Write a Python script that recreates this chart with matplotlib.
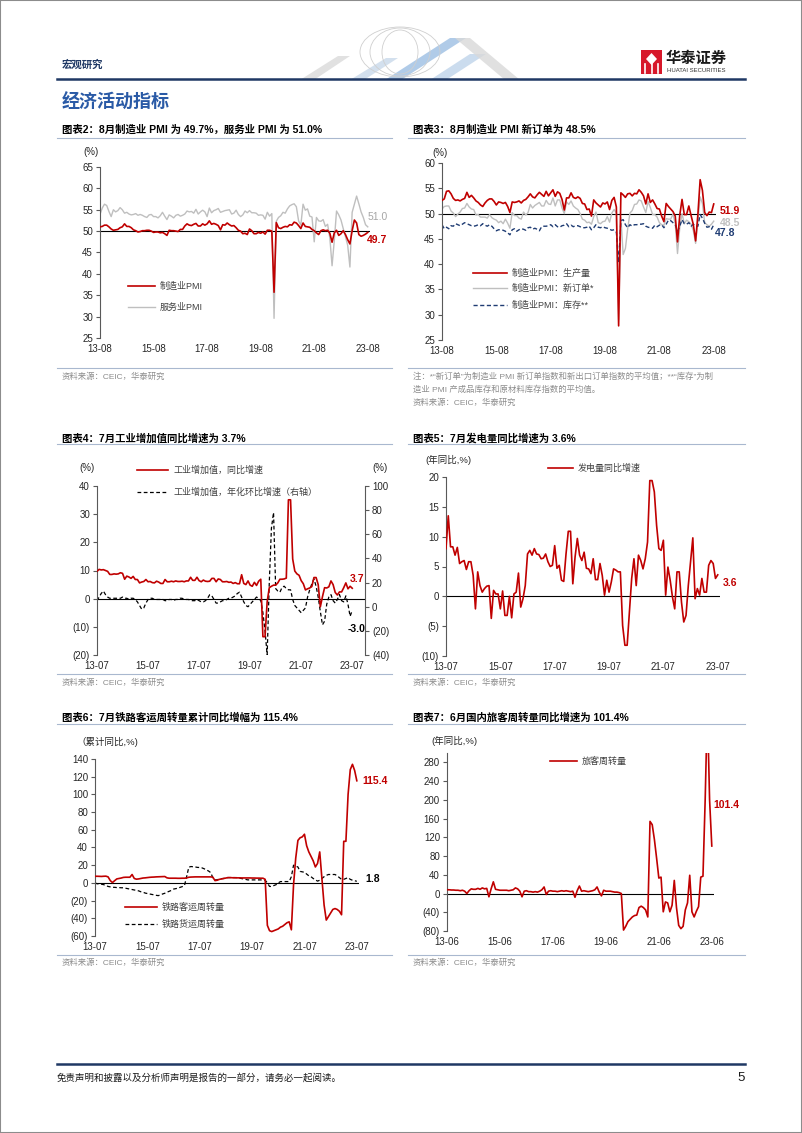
import matplotlib
matplotlib.use('Agg')
import matplotlib.pyplot as plt
from matplotlib.lines import Line2D
from matplotlib.patches import Rectangle, Polygon, Ellipse

plt.rcParams['font.family'] = ['Liberation Sans', 'Noto Sans CJK SC']
plt.rcParams['axes.unicode_minus'] = False

# ---------------- data (monthly) ----------------
# chart 2: 2013-08 .. 2023-08
pmi_mfg = [51.0, 51.1, 51.4, 51.4, 51.0,
           50.5, 50.2, 50.3, 50.4, 50.8, 51.0, 51.7, 51.1, 51.1, 50.8, 50.3, 50.1,
           49.8, 49.9, 50.1, 50.1, 50.2, 50.2, 50.0, 49.7, 49.8, 49.8, 49.6, 49.7,
           49.4, 49.0, 50.2, 50.1, 50.1, 50.0, 49.9, 50.4, 50.4, 51.2, 51.7, 51.4,
           51.3, 51.6, 51.8, 51.2, 51.2, 51.7, 51.4, 51.7, 52.4, 51.6, 51.8, 51.6,
           51.3, 50.3, 51.5, 51.4, 51.9, 51.5, 51.2, 51.3, 50.8, 50.2, 50.0, 49.4,
           49.5, 49.2, 50.5, 50.1, 49.4, 49.4, 49.7, 49.5, 49.8, 49.3, 50.2, 50.2,
           50.0, 35.7, 52.0, 50.8, 50.6, 50.9, 51.1, 51.0, 51.5, 51.4, 52.1, 51.9,
           51.3, 50.6, 51.9, 51.1, 51.0, 50.9, 50.4, 50.1, 49.6, 49.2, 50.1, 50.3,
           50.1, 50.2, 49.5, 47.4, 49.6, 50.2, 49.0, 49.4, 50.1, 49.2, 48.0, 47.0,
           50.1, 52.6, 51.9, 49.2, 48.8, 49.0, 49.3, 49.7]
pmi_svc = [53.9, 55.4, 56.3, 56.0, 54.6,
           53.4, 55.0, 54.5, 54.8, 55.5, 55.0, 54.2, 54.4, 54.0, 53.8, 53.9, 54.1,
           53.7, 53.9, 53.7, 53.4, 53.2, 53.8, 53.9, 53.4, 53.4, 53.1, 53.6, 54.4,
           53.5, 52.7, 53.8, 53.5, 53.1, 53.7, 53.9, 53.5, 53.7, 54.0, 54.7, 54.5,
           54.6, 54.2, 55.1, 54.0, 54.5, 54.9, 54.5, 53.4, 55.4, 54.3, 54.8, 55.0,
           55.3, 54.4, 54.6, 54.8, 54.9, 55.0, 54.0, 54.2, 54.9, 53.9, 53.4, 53.8,
           54.7, 54.3, 54.8, 54.3, 54.3, 54.2, 53.7, 53.8, 53.7, 52.8, 54.4, 53.5,
           54.1, 29.6, 52.3, 53.2, 53.6, 54.4, 54.2, 55.2, 55.9, 56.2, 56.4, 55.7,
           52.4, 51.4, 56.3, 54.9, 55.2, 53.5, 53.3, 47.5, 53.2, 52.4, 52.3, 52.7,
           51.1, 51.6, 48.4, 41.9, 47.8, 54.7, 53.8, 52.6, 50.6, 48.7, 46.7, 41.6,
           54.4, 56.3, 58.2, 56.4, 54.5, 53.2, 51.5, 51.0]

# chart 3: 2013-08 .. 2023-08
pmi_prod = [52.6, 52.9, 54.4, 54.5, 53.9,
            53.0, 52.6, 52.7, 52.5, 52.8, 53.0, 54.2, 53.2, 53.6, 53.1, 52.5, 52.2,
            51.7, 51.4, 52.1, 52.6, 52.9, 52.9, 52.4, 51.7, 52.3, 52.2, 52.0, 52.2,
            51.4, 50.2, 52.3, 52.2, 52.3, 52.5, 52.1, 52.6, 52.8, 53.3, 53.9, 53.3,
            53.1, 53.7, 54.2, 53.8, 53.4, 54.4, 53.5, 54.1, 54.7, 53.4, 54.3, 54.0,
            52.8, 50.7, 53.1, 53.1, 54.1, 53.2, 53.0, 53.3, 53.0, 52.0, 51.9, 50.8,
            50.9, 49.5, 52.7, 52.1, 51.7, 51.3, 52.1, 51.9, 52.3, 50.8, 52.6, 53.2,
            51.3, 27.8, 54.1, 53.7, 53.2, 53.9, 54.0, 53.5, 54.0, 53.9, 54.7, 54.2,
            53.5, 51.9, 53.9, 52.2, 52.7, 51.9, 51.0, 50.9, 49.5, 48.4, 52.0, 51.4,
            50.9, 50.4, 49.5, 44.4, 49.7, 52.8, 49.8, 49.8, 51.5, 49.6, 47.8, 44.6,
            49.8, 56.7, 54.6, 50.2, 49.6, 50.3, 50.2, 51.9]
pmi_neword = [50.9, 51.4, 51.5, 51.5, 50.5,
              50.1, 49.4, 49.9, 50.3, 51.0, 51.1, 52.0, 51.3, 50.9, 50.8, 49.7, 49.8,
              49.3, 49.3, 49.3, 49.1, 49.8, 49.2, 48.9, 48.7, 48.2, 48.5, 48.0, 48.9,
              48.1, 47.1, 50.2, 49.6, 49.6, 49.1, 48.9, 50.3, 49.7, 50.2, 51.8, 51.1,
              51.6, 51.9, 52.2, 51.5, 51.5, 52.6, 51.9, 51.8, 53.1, 51.5, 52.7, 52.7,
              51.1, 50.0, 52.3, 51.8, 52.5, 51.5, 51.1, 50.8, 50.0, 48.9, 48.7, 48.2,
              48.3, 47.9, 49.4, 50.3, 48.2, 48.0, 48.4, 48.5, 49.4, 48.3, 50.1, 50.8,
              50.1, 29.0, 49.2, 41.9, 43.1, 47.0, 50.1, 50.6, 51.8, 51.9, 52.7, 52.5,
              51.3, 50.2, 52.4, 51.2, 49.8, 49.8, 49.3, 48.2, 47.8, 47.7, 49.0, 48.9,
              48.9, 49.9, 48.0, 42.1, 47.2, 50.0, 48.0, 48.7, 48.4, 47.9, 46.6, 44.1,
              48.5, 53.3, 52.0, 48.2, 47.8, 47.5, 47.9, 48.5]
pmi_inv = [47.8, 47.0, 47.3, 47.0, 47.6,
           47.5, 48.0, 47.8, 47.6, 47.9, 48.2, 48.0, 47.8, 47.6, 47.5, 47.6, 47.8,
           47.6, 48.0, 47.7, 47.5, 47.8, 47.5, 47.0, 46.6, 46.8, 46.8, 46.7, 46.5,
           46.2, 45.8, 46.8, 47.0, 46.5, 46.8, 47.0, 46.9, 46.7, 47.2, 47.3, 46.9,
           47.1, 46.9, 46.6, 47.4, 47.5, 47.5, 47.6, 47.8, 47.4, 47.8, 47.4, 47.3,
           47.6, 47.7, 48.0, 47.4, 47.7, 47.4, 47.6, 47.6, 47.4, 47.2, 47.2, 47.3,
           47.5, 46.8, 47.2, 47.8, 47.3, 47.2, 47.4, 47.2, 47.1, 46.9, 46.7, 46.8,
           46.3, 40.3, 48.6, 48.8, 47.8, 47.2, 47.8, 47.5, 47.8, 47.8, 47.9, 47.9,
           48.0, 47.5, 47.3, 47.2, 47.1, 47.7, 47.4, 47.7, 47.8, 47.2, 47.9, 48.7,
           48.6, 48.2, 47.8, 46.5, 47.5, 48.8, 48.0, 47.9, 48.2, 47.5, 47.9, 47.5,
           47.5, 49.8, 49.1, 48.1, 47.3, 47.4, 46.9, 47.8]

# chart 4: 2013-07 .. 2023-07
iva_yoy = [9.7, 10.4, 10.2, 10.3, 10.0, 9.7,
           8.6, 8.6, 8.8, 8.7, 8.8, 9.2, 9.0, 6.9, 8.0, 7.7, 7.2, 7.9,
           6.8, 6.8, 5.6, 5.9, 6.1, 6.8, 6.0, 6.1, 5.7, 5.6, 6.2, 5.9,
           5.4, 5.4, 6.8, 6.0, 6.0, 6.2, 6.0, 6.3, 6.1, 6.1, 6.2, 6.0,
           6.3, 6.3, 7.6, 6.5, 6.5, 7.6, 6.4, 6.0, 6.6, 6.2, 6.1, 6.2,
           7.2, 7.2, 6.0, 7.0, 6.8, 6.0, 6.0, 6.1, 5.8, 5.9, 5.4, 5.7,
           5.3, 5.3, 8.5, 5.4, 5.0, 6.3, 4.8, 4.4, 5.8, 4.7, 6.2, 6.9,
           -13.5, -13.5, -1.1, 3.9, 4.4, 4.8, 4.8, 5.6, 6.9, 6.9, 7.0, 7.3,
           35.1, 35.1, 14.1, 9.8, 8.8, 8.3, 6.4, 5.3, 3.1, 3.5, 3.8, 4.3,
           7.5, 7.5, 5.0, -2.9, 0.7, 3.9, 3.8, 4.2, 6.3, 5.0, 2.2, 1.3,
           2.4, 2.4, 3.9, 5.6, 3.5, 4.4, 3.7]
iva_saar = [5, 8, 11, 13, 10, 8,
            7, 7, 7, 7, 7, 7, 8, 7, 7, 6, 7, 7,
            6, 4, 1, -2, -1, 3, 6, 7, 7, 6, 6, 6,
            6, 6, 5, 5, 6, 6, 5, 6, 6, 7, 7, 6,
            6, 6, 5, 5, 5, 6, 5, 4, 4, 5, 7, 10,
            9, 6, 3, 3, 4, 5, 5, 6, 7, 7, 8, 9,
            11, 12, 8, 4, 1, 0, 2, 4, 6, 8, 7, 5,
            -5, -20, -40, 20, 65, 78, 15, 13, 12, 16, 17, 15,
            14, 14, 6, 1, -1, -3, -5, -3, -1, 8, 14, 19,
            23, 17, 8, -4, -15, -12, 2, 8, 10, 5, 3, 6,
            10, 5, 4, 9, 2, -8, -3]

# chart 5: 2013-07 .. 2023-07
power_yoy = [8.0, 13.5, 8.3, 8.3, 6.9, 8.2, 5.5, 5.8, 6.0, 4.5,
             5.8, 5.8, 3.5, -2.1, 4.1, 1.8, 0.7, 1.3, 1.7, 1.8,
             -3.7, 1.0, 0.4, 0.4, -2.1, 0.9, -3.2, -3.2, 0.0, -3.6,
             0.4, 0.7, 3.9, -1.8, -0.4, 1.8, 7.1, 7.7, 6.9, 8.0,
             7.1, 7.0, 6.3, 6.4, 7.1, 5.8, 5.0, 5.2, 8.5, 4.7,
             5.2, 2.7, 2.5, 7.1, 10.9, 10.9, 2.1, 6.6, 9.7, 6.9,
             6.0, 7.4, 4.7, 4.6, 3.8, 6.3, 2.8, 2.8, 5.5, 3.5,
             0.2, 2.7, 0.7, 2.4, 4.6, 4.4, 4.1, 4.1, -4.9, -8.2,
             -8.2, -2.6, 3.0, 6.3, 1.8, 6.9, 6.0, 4.6, 6.3, 9.1,
             19.4, 19.4, 17.5, 11.9, 8.0, 7.7, 9.4, 0.2, 4.9, 2.7,
             -0.1, -2.1, 4.1, 4.1, -1.0, -4.3, -3.2, 1.8, 5.8, 9.8,
             -0.4, 1.3, 0.2, 3.0, 0.7, 0.7, 5.2, 6.0, 5.5, 3.0,
             3.6]

# chart 6: 2013-07 .. 2023-07
rail_pass = [7.5, 7.5, 7.4, 7.3, 7.5, 7.6,
             6.8, 2.6, 0.4, 2.5, 4.5, 5.0, 5.5, 6.2, 6.4, 6.4, 6.4, 9.5,
             5.0, 4.2, 4.5, 5.0, 5.5, 5.7, 6.0, 6.3, 6.5, 6.6, 6.8, 6.9,
             7.0, 7.1, 7.2, 5.7, 5.3, 5.3, 5.3, 5.3, 5.2, 5.2, 5.3, 5.3,
             5.6, 6.4, 6.6, 6.7, 6.8, 6.8, 6.8, 6.8, 6.8, 6.8, 6.8, 6.8,
             6.5, 2.6, 3.0, 4.0, 4.5, 5.0, 5.5, 6.0, 6.0, 5.8, 5.8, 5.7,
             5.7, 5.6, 5.6, 5.6, 5.6, 5.6, 5.5, 5.5, 5.4, 5.4, 5.3, 5.3,
             4.0, -48, -54, -55, -54, -53, -52, -50, -49, -47, -45, -44,
             -53, -2, 28, 48, 51, 52, 55, 42, 35, 30, 25, 18,
             22, 35, 5, -25, -42, -38, -34, -30, -29, -30, -32, -36,
             47, 47, 100, 128, 134, 127, 115.4]
rail_freight = [0, -1, -1, -1.5, -2, -3,
                -4, -4.5, -5, -5, -5.3, -5.3, -5.5, -5.5, -6, -6.5, -7, -7.5,
                -8, -8.5, -9, -10, -10.5, -11.5, -12, -12.5, -13, -13.5, -14, -14.4,
                -13.5, -12.5, -11.7, -10.5, -9.5, -8.5, -7, -6.5, -6, -5, -4.2, -3,
                7, 17.8, 18.5, 18.2, 18, 17.5, 17.4, 17, 16, 14.7, 13.5, 11.7,
                6, 3.4, 3.5, 4.5, 4.8, 5, 6, 6, 6, 6, 6, 6,
                5.5, 5, 4.5, 4, 3.4, 3.4, 3.4, 3.4, 3.4, 3.4, 3.4, 3.4,
                3, 0, -4, -4, -3, -2, 0, 1.5, 1.5, 1.5, 1.5, 1.5,
                7, 20, 19, 18, 13, 12.5, 12, 10, 8, 7, 5, 3.5,
                2, 3, 5, 7, 8.5, 9.5, 9.5, 9.5, 9.5, 8, 6, 4,
                4, 5, 6, 4, 3, 2.5, 1.8]

# chart 7: 2013-06 .. 2023-06
pass_turnover = [8, 8, 7.5, 7.5, 7, 7, 6,
                 7, 5, 0, 6, 10, 9, 9, 11, 9, 12, 10, 11,
                 -7, 10, 25, 9, 8, 7, 7, 7, 7, 6, 7, 8,
                 12, 10, 5, -7, 5, 6, 4, 4, 3, 4, 3, 5,
                 8, 14, -2, 5, 6, 5, 5, 4, 5, 6, 5, 6,
                 5, 4, 5, -8, 6, 16, 5, 6, 5, 4, 5, 6,
                 8, 14, 3, -5, 7, 5, 5, 5, 4, 3, 3, 2,
                 0, -78, -70, -60, -55, -50, -47, -46, -30, -27, -30, -35,
                 -50, 154, 147, 115, 75, 33, 35, -39, -18, -20, -39, -25,
                 28, -30, -68, -75, -70, -35, -20, 39, -39, -50, -38, -28,
                 35, 37, 200, 400, 200, 101.4]

xt_aug = ['13-08', '15-08', '17-08', '19-08', '21-08', '23-08']
xt_jul = ['13-07', '15-07', '17-07', '19-07', '21-07', '23-07']
xt_jun = ['13-06', '15-06', '17-06', '19-06', '21-06', '23-06']

RED = '#C00000'
NAVY = '#1F3864'
GRAY = '#BFBFBF'
SEP = '#A9B8CF'
TXT = '#404040'

W, H = 802, 1133
fig = plt.figure(figsize=(W / 100, H / 100), dpi=100)


def box(x0, y0, x1, y1):
    return [x0 / W, 1 - y1 / H, (x1 - x0) / W, (y1 - y0) / H]


def ftext(x, y, s, **kw):
    kw.setdefault('va', 'center')
    fig.text(x / W, 1 - y / H, s, **kw)


def hline(x0, x1, y, color, lw, **kw):
    fig.add_artist(Line2D([x0 / W, x1 / W], [1 - y / H, 1 - y / H], color=color, lw=lw, **kw))


def leg(x0, x1, y, label, **style):
    hline(x0, x1, y, **style)
    ftext(x1 + 5, y, label, fontsize=6.5, color=TXT)


def fmt(v):
    return '(%d)' % abs(v) if v < 0 else '%d' % v


def setup(ax, ylim, yticks, xlabels, xmax, ref=0):
    ax.set_xlim(0, xmax)
    ax.set_ylim(*ylim)
    for s in ('top', 'right', 'bottom'):
        ax.spines[s].set_visible(False)
    ax.spines['left'].set_color('#595959')
    ax.spines['left'].set_linewidth(0.8)
    ax.set_yticks(yticks)
    ax.set_yticklabels([fmt(v) for v in yticks])
    ax.set_xticks(range(0, 121, 24))
    ax.set_xticklabels(xlabels)
    ax.tick_params(axis='y', length=3, width=0.8, color='#595959', labelsize=7, pad=2, labelcolor='#262626')
    ax.tick_params(axis='x', length=0, labelsize=7, pad=4, labelcolor='#262626')
    ax.patch.set_alpha(0)
    ax.axhline(ref, color='black', lw=0.8, zorder=1)


# ---------------- page furniture ----------------
fig.add_artist(Rectangle((0, 0), 1, 1, transform=fig.transFigure, fill=False,
                         edgecolor='#8C8C8C', lw=1.5))

# header decoration
deco = [([(300, 80), (338, 56), (350, 56), (314, 80)], '#DADADA'),
        ([(350, 80), (386, 58), (398, 58), (364, 80)], '#C9D9EA'),
        ([(385, 80), (450, 38), (466, 38), (401, 80)], '#9DBFE3'),
        ([(430, 80), (470, 54), (486, 54), (446, 80)], '#BFD4EA'),
        ([(455, 38), (470, 38), (520, 80), (505, 80)], '#D9D9D9')]
for pts, c in deco:
    fig.add_artist(Polygon([(x / W, 1 - y / H) for x, y in pts], closed=True,
                           transform=fig.transFigure, facecolor=c, edgecolor='none', alpha=0.8))
for w_, h_ in [(80, 50), (60, 48), (36, 44)]:
    fig.add_artist(Ellipse((400 / W, 1 - 52 / H), w_ / W, h_ / H, transform=fig.transFigure,
                           fill=False, edgecolor='#CFCFCF', lw=0.6))

ftext(62, 65, '宏观研究', fontsize=7.5, fontweight='bold', color=NAVY)
hline(57, 745, 79, NAVY, 1.8)

# logo
fig.add_artist(Rectangle((641 / W, 1 - 74 / H), 21 / W, 24 / H, transform=fig.transFigure,
                         facecolor='#D7182A', edgecolor='none'))
fig.add_artist(Polygon([(651.5 / W, 1 - 53 / H), (657 / W, 1 - 59 / H), (651.5 / W, 1 - 65 / H),
                        (646 / W, 1 - 59 / H)], closed=True, transform=fig.transFigure,
                       facecolor='white', edgecolor='none'))
for xx in (645, 651.5, 658):
    fig.add_artist(Line2D([xx / W, xx / W], [1 - 64 / H, 1 - 73 / H], color='white', lw=1.2))
ftext(666, 59, '华泰证券', fontsize=11, fontweight='bold', color='#1A1A1A')
ftext(667, 71, 'HUATAI SECURITIES', fontsize=4.3, color='#333333')

ftext(62, 103, '经济活动指标', fontsize=13, fontweight='bold', color='#2A5AA6')

# footer
hline(57, 745, 1064, NAVY, 1.8)
ftext(57, 1078, '免责声明和披露以及分析师声明是报告的一部分，请务必一起阅读。', fontsize=6.8,
      color='#1A1A1A', style='italic')
ftext(745, 1078, '5', fontsize=9.5, color='#1A1A1A', ha='right')

# titles / separators / sources
titles = [(62, 130, '图表2：8月制造业 PMI 为 49.7%，服务业 PMI 为 51.0%'),
          (413, 130, '图表3：8月制造业 PMI 新订单为 48.5%'),
          (62, 438, '图表4：7月工业增加值同比增速为 3.7%'),
          (413, 438, '图表5：7月发电量同比增速为 3.6%'),
          (62, 718, '图表6：7月铁路客运周转量累计同比增幅为 115.4%'),
          (413, 718, '图表7：6月国内旅客周转量同比增速为 101.4%')]
for x, y, s in titles:
    ftext(x, y, s, fontsize=7.5, fontweight='bold', color='black')
for y in (138, 444, 724):
    hline(57, 392, y, SEP, 0.8)
    hline(408, 745, y, SEP, 0.8)
for y in (368, 674, 955):
    hline(57, 392, y, SEP, 0.8)
    hline(408, 745, y, SEP, 0.8)
SRC = '资料来源：CEIC，华泰研究'
for x, y in [(62, 377), (413, 403), (62, 683), (413, 683), (62, 963), (413, 963)]:
    ftext(x, y, SRC, fontsize=6, color='#8C8C8C')
ftext(413, 377, '注：*“新订单”为制造业 PMI 新订单指数和新出口订单指数的平均值；**“库存”为制',
      fontsize=6, color='#8C8C8C')
ftext(413, 390, '造业 PMI 产成品库存和原材料库存指数的平均值。', fontsize=6, color='#8C8C8C')

# ---------------- chart 2 ----------------
ax = fig.add_axes(box(100, 167, 370, 338))
setup(ax, (25, 65), range(25, 66, 5), xt_aug, 121, ref=50)
ax.plot(range(len(pmi_svc)), pmi_svc, color=GRAY, lw=1.0, zorder=2)
ax.plot(range(len(pmi_mfg)), pmi_mfg, color=RED, lw=1.2, zorder=3)
ax.text(119.7, 53.3, '51.0', fontsize=7.5, color='#A6A6A6', va='center')
ax.text(119.7, 47.9, '49.7', fontsize=7.5, color=RED, fontweight='bold', va='center')
ftext(91, 152, '(%)', fontsize=7, ha='center', color='#262626')
leg(128, 155, 286, '制造业PMI', color=RED, lw=1.2)
leg(128, 155, 307, '服务业PMI', color=GRAY, lw=1.0)

# ---------------- chart 3 ----------------
ax = fig.add_axes(box(442, 163, 716, 340))
setup(ax, (25, 60), range(25, 61, 5), xt_aug, 121, ref=50)
ax.plot(range(len(pmi_neword)), pmi_neword, color=GRAY, lw=1.0, zorder=2)
ax.plot(range(len(pmi_inv)), pmi_inv, color='#1F3C73', lw=1.0, ls=(0, (3, 1.8)), zorder=2)
ax.plot(range(len(pmi_prod)), pmi_prod, color=RED, lw=1.2, zorder=3)
ax.text(122.8, 50.5, '51.9', fontsize=7.5, color=RED, fontweight='bold', va='center')
ax.text(122.8, 48.1, '48.5', fontsize=7.5, color='#C0C0C0', fontweight='bold', va='center')
ax.text(120.6, 46.2, '47.8', fontsize=7.5, color='#1F3C73', fontweight='bold', va='center')
ftext(440, 153, '(%)', fontsize=7, ha='center', color='#262626')
leg(473, 507, 273, '制造业PMI：生产量', color=RED, lw=1.2)
leg(473, 507, 288, '制造业PMI：新订单*', color=GRAY, lw=1.0)
leg(473, 507, 305, '制造业PMI：库存**', color='#1F3C73', lw=1.0, ls=(0, (3, 1.8)))

# ---------------- chart 4 ----------------
ax = fig.add_axes(box(97, 486, 365, 655))
setup(ax, (-20, 40), range(-20, 41, 10), xt_jul, 126)
ax2 = ax.twinx()
ax2.set_ylim(-40, 100)
for s in ('top', 'left', 'bottom'):
    ax2.spines[s].set_visible(False)
ax2.spines['right'].set_color('#595959')
ax2.spines['right'].set_linewidth(0.8)
ax2.set_yticks(range(-40, 101, 20))
ax2.set_yticklabels([fmt(v) for v in range(-40, 101, 20)])
ax2.tick_params(axis='y', length=3, width=0.8, color='#595959', labelsize=7, pad=2, labelcolor='#262626')
ax2.plot(range(len(iva_saar)), iva_saar, color='black', lw=0.9, ls=(0, (3, 2)), zorder=2)
ax.set_zorder(ax2.get_zorder() + 1)
ax.plot(range(len(iva_yoy)), iva_yoy, color=RED, lw=1.2, zorder=3)
ax.text(119, 7.0, '3.7', fontsize=7.5, color=RED, fontweight='bold', va='center')
ax.text(118, -10.8, '-3.0', fontsize=7.5, color='black', fontweight='bold', va='center')
ftext(87, 468, '(%)', fontsize=7, ha='center', color='#262626')
ftext(380, 468, '(%)', fontsize=7, ha='center', color='#262626')
leg(137, 168, 470, '工业增加值，同比增速', color=RED, lw=1.2)
leg(137, 168, 492, '工业增加值，年化环比增速（右轴）', color='black', lw=0.9, ls=(0, (3, 2)))

# ---------------- chart 5 ----------------
ax = fig.add_axes(box(446, 477, 720, 656))
setup(ax, (-10, 20), range(-10, 21, 5), xt_jul, 121)
ax.plot(range(len(power_yoy)), power_yoy, color=RED, lw=1.2, zorder=3)
ax.text(122.3, 2.2, '3.6', fontsize=7.5, color=RED, fontweight='bold', va='center')
ftext(425, 460, '(年同比,%)', fontsize=6.8, color='#262626')
leg(548, 573, 468, '发电量同比增速', color=RED, lw=1.2)

# ---------------- chart 6 ----------------
ax = fig.add_axes(box(95, 759, 359, 936))
setup(ax, (-60, 140), range(-60, 141, 20), xt_jul, 121)
ax.plot(range(len(rail_freight)), rail_freight, color='black', lw=0.9, ls=(0, (3, 2)), zorder=2)
ax.plot(range(len(rail_pass)), rail_pass, color=RED, lw=1.2, zorder=3)
ax.text(122.4, 115.1, '115.4', fontsize=7.5, color=RED, fontweight='bold', va='center')
ax.text(123.7, 4.5, '1.8', fontsize=7.5, color='black', fontweight='bold', va='center')
ftext(76, 742, '（累计同比,%)', fontsize=6.8, color='#262626')
leg(125, 157, 907, '铁路客运周转量', color=RED, lw=1.2)
leg(125, 157, 924, '铁路货运周转量', color='black', lw=0.9, ls=(0, (3, 2)))

# ---------------- chart 7 ----------------
ax = fig.add_axes(box(447, 753, 714, 931))
setup(ax, (-80, 300), range(-80, 281, 40), xt_jun, 121)
ax.plot(range(len(pass_turnover)), pass_turnover, color=RED, lw=1.2, zorder=3)
ax.text(120.5, 189, '101.4', fontsize=7.5, color=RED, fontweight='bold', va='center')
ftext(431, 741, '(年同比,%)', fontsize=6.8, color='#262626')
leg(550, 577, 761, '旅客周转量', color=RED, lw=1.2)

fig.savefig('out.png', dpi=100)
